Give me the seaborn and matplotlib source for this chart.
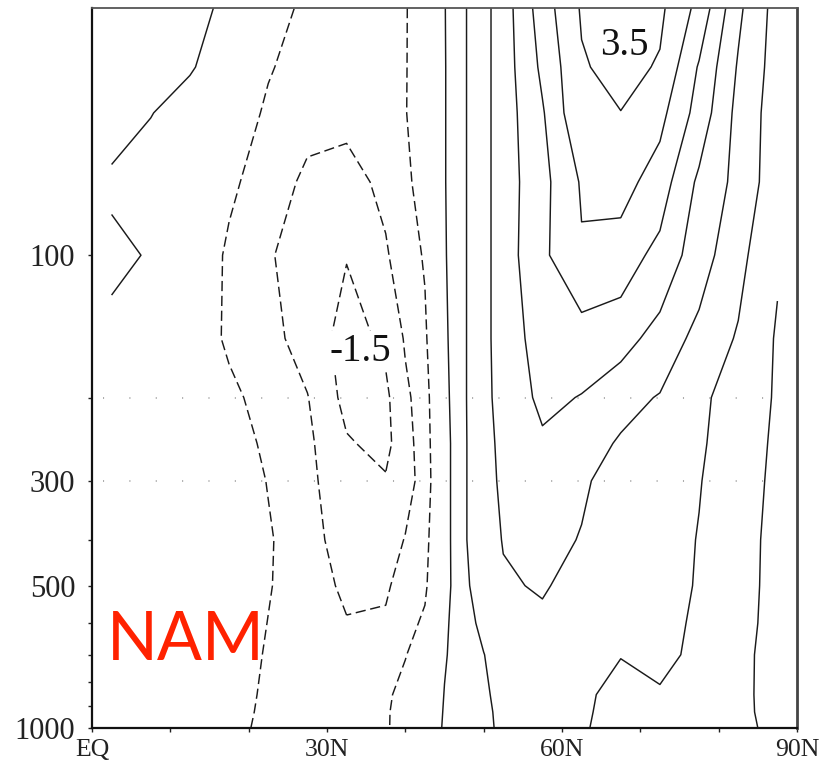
import numpy as np
import matplotlib
matplotlib.use("Agg")
import matplotlib.pyplot as plt
from matplotlib.ticker import FixedLocator, FixedFormatter, NullFormatter
import seaborn as sns

# ---------------- data ----------------
lats = [2.5, 7.5, 12.5, 17.5, 22.5, 27.5, 32.5, 37.5, 40.0, 42.5, 45.0,
        47.5, 50.0, 52.5, 57.5, 62.5, 67.5, 72.5, 77.5, 82.5, 87.5]
plevs = [1000, 925, 850, 700, 600, 500, 400, 300, 250, 200, 150, 100, 70, 50, 40, 30]

u_1000 = [0.05, 0.0, -0.1, -0.35, -0.62, -0.6, -0.62, -0.55, -0.3, 0.02, 0.58, 0.75, 0.92, 1.07, 1.12, 1.04, 0.85, 0.85, 0.8, 0.62, 0.38]
u_925 = [0.05, 0.0, -0.1, -0.32, -0.6, -0.62, -0.65, -0.55, -0.32, 0.0, 0.55, 0.75, 0.93, 1.08, 1.15, 1.05, 0.88, 0.9, 0.82, 0.6, 0.36]
u_850 = [0.05, 0.0, -0.1, -0.3, -0.58, -0.65, -0.7, -0.58, -0.35, -0.05, 0.52, 0.75, 0.95, 1.1, 1.2, 1.06, 0.9, 0.97, 0.85, 0.6, 0.35]
u_700 = [0.05, 0.0, -0.05, -0.22, -0.55, -0.7, -0.8, -0.7, -0.52, -0.25, 0.45, 0.8, 0.99, 1.2, 1.3, 1.15, 1.01, 1.08, 0.93, 0.62, 0.33]
u_600 = [0.05, 0.0, -0.05, -0.2, -0.51, -0.75, -0.97, -0.95, -0.7, -0.4, 0.4, 0.85, 1.1, 1.3, 1.42, 1.25, 1.15, 1.1, 0.95, 0.65, 0.35]
u_500 = [0.05, 0.0, -0.05, -0.2, -0.47, -0.75, -1.1, -1.05, -0.85, -0.6, 0.3, 0.92, 1.2, 1.45, 1.54, 1.35, 1.25, 1.15, 0.97, 0.68, 0.35]
u_400 = [0.05, 0.0, -0.05, -0.2, -0.45, -0.8, -1.25, -1.2, -0.98, -0.7, 0.3, 0.95, 1.3, 1.52, 1.62, 1.48, 1.3, 1.2, 0.98, 0.7, 0.35]
u_300 = [0.1, 0.0, -0.05, -0.2, -0.52, -0.85, -1.4, -1.45, -1.15, -0.85, 0.3, 0.95, 1.3, 1.6, 1.75, 1.55, 1.35, 1.25, 1.02, 0.75, 0.38]
u_250 = [0.15, 0.05, -0.05, -0.25, -0.6, -0.9, -1.45, -1.65, -1.15, -0.8, 0.3, 0.95, 1.3, 1.65, 1.93, 1.7, 1.45, 1.3, 1.05, 0.8, 0.4]
u_200 = [0.2, 0.1, -0.05, -0.35, -0.75, -0.98, -1.65, -1.6, -1.1, -0.75, 0.35, 0.95, 1.35, 1.7, 2.1, 1.98, 1.65, 1.47, 1.1, 0.78, 0.45]
u_150 = [0.3, 0.15, -0.1, -0.6, -0.85, -1.2, -1.7, -1.4, -0.95, -0.6, 0.4, 0.95, 1.35, 1.75, 2.2, 2.25, 2.2, 1.8, 1.35, 0.95, 0.45]
u_100 = [0.65, 0.45, 0.0, -0.6, -0.95, -1.25, -1.48, -1.05, -0.75, -0.45, 0.45, 0.95, 1.35, 1.75, 2.4, 2.95, 2.75, 2.35, 1.73, 1.15, 0.55]
u_70 = [0.4, 0.2, -0.1, -0.4, -0.75, -1.1, -1.15, -0.9, -0.65, -0.2, 0.47, 0.95, 1.35, 1.75, 2.35, 3.05, 3.2, 2.75, 1.9, 1.35, 0.7]
u_50 = [0.75, 0.52, 0.25, -0.1, -0.6, -0.85, -0.9, -0.8, -0.53, -0.1, 0.47, 0.95, 1.35, 1.75, 2.45, 3.45, 3.49, 3.15, 2.3, 1.35, 0.75]
u_40 = [0.9, 0.7, 0.55, 0.2, -0.45, -0.75, -0.85, -0.72, -0.54, -0.08, 0.47, 0.95, 1.35, 1.75, 2.6, 3.45, 3.67, 3.45, 2.45, 1.45, 0.78]
u_30 = [0.98, 0.85, 0.65, 0.4, -0.2, -0.65, -0.8, -0.65, -0.55, -0.05, 0.48, 0.95, 1.35, 1.75, 2.75, 3.55, 3.85, 3.6, 2.85, 1.6, 0.8]

neg_levels = [-2.0, -1.5, -1.0, -0.5]
pos_levels = [0.5, 1.0, 1.5, 2.0, 2.5, 3.0, 3.5, 4.0]

xtick_vals = [0, 30, 60, 90]
xtick_labels = ["EQ", "30N", "60N", "90N"]
xminor_vals = [10, 20, 40, 50, 70, 80]
ytick_vals = [100, 300, 500, 1000]
ytick_labels = ["100", "300", "500", "1000"]
yminor_vals = [200, 400, 600, 700, 800, 900]
guide_levels = [200, 300]

contour_labels = ["3.5", "-1.5"]
contour_label_pos = [(68.0, 36.0), (34.2, 160.0)]
panel_title = "NAM"

# ---------------- figure ----------------
sns.set_style("white")
plt.rcParams["font.family"] = ["Liberation Serif", "DejaVu Serif"]

U = np.array([u_1000, u_925, u_850, u_700, u_600, u_500, u_400, u_300,
              u_250, u_200, u_150, u_100, u_70, u_50, u_40, u_30])
LAT, P = np.meshgrid(lats, plevs)

fig = plt.figure(figsize=(8.2, 7.71), dpi=100)
ax = fig.add_axes([92 / 820, 43 / 771, 705 / 820, 720 / 771])

ax.set_yscale("log")
ax.set_xlim(0, 90)
ax.set_ylim(1000, 30)

for lev in guide_levels:
    ax.axhline(lev, xmin=0.015, xmax=0.975, color="#a5a5a5", lw=1.3,
               linestyle=(0, (0.6, 14)), zorder=1)

ax.contour(LAT, P, U, levels=neg_levels, colors="#1a1a1a", linewidths=1.05,
           linestyles=[(0, (7, 3.2))], zorder=2)
ax.contour(LAT, P, U, levels=pos_levels, colors="#1a1a1a", linewidths=1.05,
           linestyles="solid", zorder=2)

for txt, (lx, ly) in zip(contour_labels, contour_label_pos):
    ax.text(lx, ly, txt, ha="center", va="center", fontsize=28,
            color="#111111", zorder=3,
            bbox=dict(boxstyle="square,pad=0.05", fc="white", ec="none"))

ax.text(0.021, 0.094, panel_title, transform=ax.transAxes, ha="left",
        va="baseline", fontsize=48, color="#ff2200",
        family=["Lato", "DejaVu Sans"], zorder=4)

ax.xaxis.set_major_locator(FixedLocator(xtick_vals))
ax.xaxis.set_major_formatter(FixedFormatter(xtick_labels))
ax.xaxis.set_minor_locator(FixedLocator(xminor_vals))
ax.xaxis.set_minor_formatter(NullFormatter())
ax.yaxis.set_major_locator(FixedLocator(ytick_vals))
ax.yaxis.set_major_formatter(FixedFormatter(ytick_labels))
ax.yaxis.set_minor_locator(FixedLocator(yminor_vals))
ax.yaxis.set_minor_formatter(NullFormatter())

ax.tick_params(axis="both", which="both", direction="out", length=3,
               width=1.0, color="#222222", labelcolor="#222222",
               bottom=True, left=True, top=False, right=False)
ax.tick_params(axis="x", which="major", pad=5, labelsize=18.5)
ax.tick_params(axis="y", which="major", pad=9, labelsize=22)

for side, sp in ax.spines.items():
    sp.set_visible(True)
    sp.set_color("#111111")
    sp.set_linewidth(1.6)
ax.spines["top"].set_color("#555555")
ax.spines["top"].set_linewidth(1.3)
ax.spines["right"].set_color("#444444")
ax.spines["right"].set_linewidth(2.0)

fig.savefig("out.png", dpi=100)
